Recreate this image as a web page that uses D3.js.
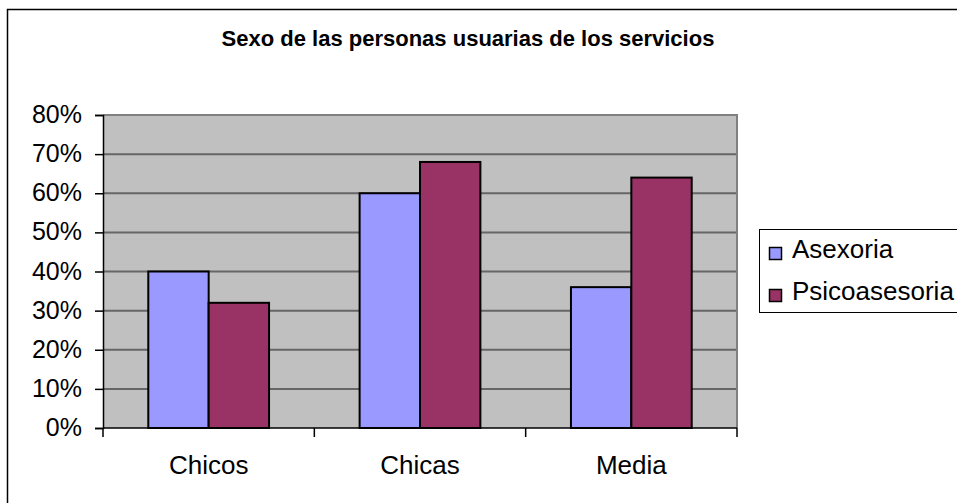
<!DOCTYPE html>
<html><head><meta charset="utf-8">
<script src="https://cdn.jsdelivr.net/npm/d3@7"></script>
<style>body{margin:0;background:#fff}svg{display:block}text{font-family:"Liberation Sans",Arial,sans-serif}</style>
</head><body>
<svg id="c" width="957" height="503"></svg>
<script>
const title = "Sexo de las personas usuarias de los servicios";
const categories = ["Chicos", "Chicas", "Media"];
const seriesNames = ["Asexoria", "Psicoasesoria"];
const asexoria = [0.40, 0.60, 0.36];
const psicoasesoria = [0.32, 0.68, 0.64];
const yTicks = [0, 0.1, 0.2, 0.3, 0.4, 0.5, 0.6, 0.7, 0.8];
const colors = ["#9999FF", "#993366"];

const series = [asexoria, psicoasesoria];
const svg = d3.select("#c");
const L = 103, R = 737, T = 115, B = 428;

// outer border
svg.append("rect").attr("x", 7.5).attr("y", 9.5).attr("width", 1000).attr("height", 1000)
  .attr("fill", "#fff").attr("stroke", "#000").attr("stroke-width", 1.5);

svg.append("text").attr("x", 468).attr("y", 46).attr("text-anchor", "middle")
  .attr("font-size", 22).attr("font-weight", "bold").text(title);

const x = d3.scaleBand().domain(categories).range([L, R]).paddingInner(0).paddingOuter(0);
const y = d3.scaleLinear().domain([0, 0.8]).range([B, T]);

// plot area
svg.append("rect").attr("x", L).attr("y", T).attr("width", R - L).attr("height", B - T)
  .attr("fill", "#C0C0C0");

// gridlines
svg.append("g").selectAll("line").data(yTicks.filter(d => d > 0)).join("line")
  .attr("x1", L).attr("x2", R).attr("y1", d => y(d)).attr("y2", d => y(d))
  .attr("stroke", "#666").attr("stroke-width", 2);

// plot border right/top
svg.append("path").attr("d", `M${L},${T}H${R}V${B}`).attr("fill", "none")
  .attr("stroke", "#808080").attr("stroke-width", 2);

// bars
const bw = x.bandwidth() / 3.5;
const gap = bw * 0.75;
series.forEach((vals, si) => {
  svg.append("g").selectAll("rect").data(categories).join("rect")
    .attr("x", (c) => x(c) + gap + si * bw)
    .attr("y", (c, i) => y(vals[i]))
    .attr("width", bw)
    .attr("height", (c, i) => y(0) - y(vals[i]))
    .attr("fill", colors[si]).attr("stroke", "#000").attr("stroke-width", 2);
});

// y axis
const yAxis = d3.axisLeft(y).tickValues(yTicks).tickFormat(d3.format(".0%")).tickSize(8).tickPadding(13);
const ga = svg.append("g").attr("transform", `translate(${L},0)`).call(yAxis);
ga.select(".domain").attr("stroke", "#000").attr("stroke-width", 1.5);
ga.selectAll(".tick line").attr("stroke", "#000").attr("stroke-width", 1.5);
ga.selectAll(".tick text").attr("font-size", 25).attr("fill", "#000")
  .attr("font-family", '"Liberation Sans",Arial,sans-serif').attr("dy", "0.3em");

// x axis
const xb = svg.append("g").attr("transform", `translate(0,${B})`);
xb.append("line").attr("x1", L).attr("x2", R).attr("stroke", "#000").attr("stroke-width", 1.5);
const bounds = categories.map(c => x(c)).concat([R]);
xb.selectAll("line.tk").data(bounds).join("line").attr("class", "tk")
  .attr("x1", d => d).attr("x2", d => d).attr("y1", 0).attr("y2", 9)
  .attr("stroke", "#000").attr("stroke-width", 1.5);
xb.selectAll("text").data(categories).join("text")
  .attr("x", c => x(c) + x.bandwidth() / 2).attr("y", 46)
  .attr("text-anchor", "middle").attr("font-size", 26).text(c => c);

// legend
svg.append("rect").attr("x", 759.5).attr("y", 229.5).attr("width", 220).attr("height", 83)
  .attr("fill", "#fff").attr("stroke", "#000").attr("stroke-width", 1);
const lg = svg.append("g").selectAll("g").data(seriesNames).join("g")
  .attr("transform", (d, i) => `translate(0,${i * 42})`);
lg.append("rect").attr("x", 769.5).attr("y", 247.5).attr("width", 12).attr("height", 12)
  .attr("fill", (d, i) => colors[i]).attr("stroke", "#000").attr("stroke-width", 1.5);
lg.append("text").attr("x", 792).attr("y", 258).attr("font-size", 26).text(d => d);
</script>
</body></html>
